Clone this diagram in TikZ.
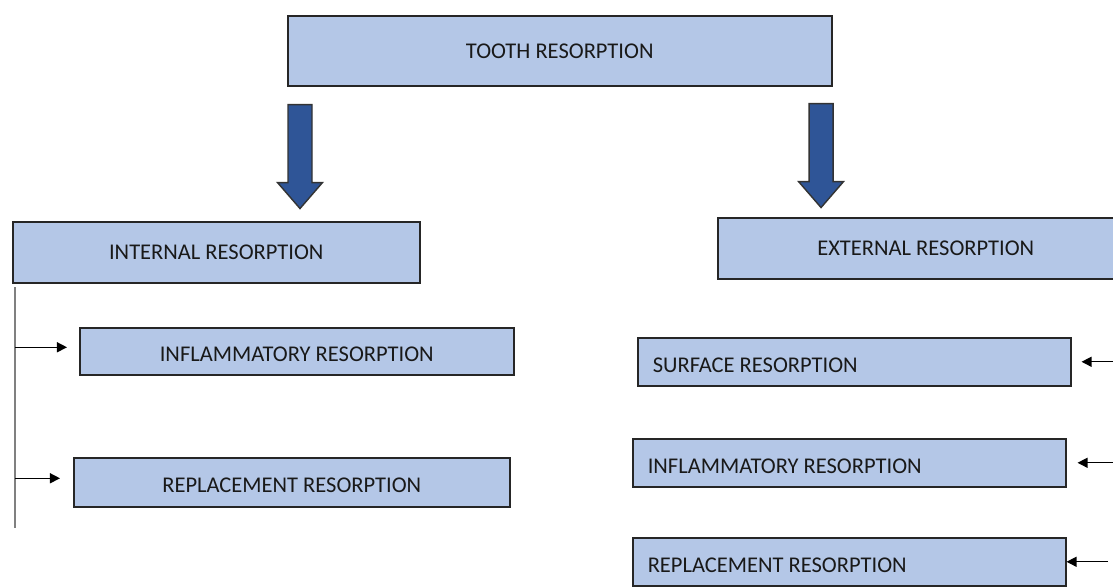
\documentclass[tikz,border=0pt]{standalone}
\usepackage{fontspec}
\setmainfont{Carlito}
\usetikzlibrary{arrows.meta,calc}

\definecolor{boxfill}{HTML}{B4C7E7}
\definecolor{boxline}{HTML}{262626}
\definecolor{arrowfill}{HTML}{2F5597}
\newcommand{\pxu}{0.025cm}

\begin{document}
\begin{tikzpicture}[x=0.025cm, y=-0.025cm,
  box/.style={draw=boxline, fill=boxfill, line width=1.1pt, inner sep=0pt, anchor=north west,
    font=\fontsize{16}{19}\selectfont, text=black!90, text height=10.3pt, text depth=0pt},
  lowtext/.style={text height=15pt},
  leftbox/.style={align=flush left, text width=403*\pxu, inner xsep=15*\pxu, minimum height=48*\pxu},
  tip/.style={-{Triangle[length=0.25cm,width=0.25cm]}, line width=1pt, black},
  trunkline/.style={line width=1.3pt, gray},
  arrowshape/.style={draw=black!80, fill=arrowfill, line width=1pt},
  fatarrow/.pic={\draw[arrowshape] (-12,0) -- (12,0) -- (12,78) -- (22.5,78) -- (0,104) -- (-22.5,78) -- (-12,78) -- cycle;}]

\useasboundingbox (0,0) rectangle (1113,587);
\clip (0,0) rectangle (1113,587);

% -------- boxes -----------
\node[box, minimum width=544*\pxu, minimum height=70*\pxu] (tooth) at (287,15) {TOOTH RESORPTION};
\node[box, minimum width=407*\pxu, minimum height=61*\pxu] (internal) at (12,221) {INTERNAL RESORPTION};
\node[box, minimum width=416*\pxu, minimum height=61*\pxu] (external) at (717,217) {EXTERNAL RESORPTION};

\node[box, lowtext, minimum width=434*\pxu, minimum height=47*\pxu] (inflint) at (79,327) {INFLAMMATORY RESORPTION};
\node[box, lowtext, minimum width=436*\pxu, minimum height=49*\pxu] (replint) at (73,457) {REPLACEMENT RESORPTION};

\node[box, lowtext, leftbox] (surfext) at (637,337) {SURFACE RESORPTION};
\node[box, lowtext, leftbox] (inflext) at (632,438) {INFLAMMATORY RESORPTION};
\node[box, lowtext, leftbox] (replext) at (632,537) {REPLACEMENT RESORPTION};

% -------- big arrows -----------
\pic at ($(tooth.south west)+(13,18)$) {fatarrow};
\pic at ($(tooth.south east)+(-11.5,17)$) {fatarrow};

% -------- internal branch -----------
\coordinate (trunk) at (15,287);
\coordinate (trunkend) at (15,528);
\coordinate (inflin) at ([yshift=0.1cm]inflint.west);
\coordinate (replin) at ([yshift=0.1cm]replint.west);
\draw[trunkline] (trunk) -- (trunkend);
\draw[tip, shorten >=0.3cm] (trunk |- inflin) -- (inflin);
\draw[tip, shorten >=0.325cm] (trunk |- replin) -- (replin);

% -------- external branch -----------
\coordinate (rim) at (1113,0);
\draw[tip, shorten >=0.25cm] (rim |- surfext.east) -- (surfext.east);
\draw[tip, shorten >=0.275cm] (rim |- inflext.east) -- (inflext.east);
\draw[tip, shorten <=0.125cm] (rim |- replext.east) -- (replext.east);

\end{tikzpicture}
\end{document}
